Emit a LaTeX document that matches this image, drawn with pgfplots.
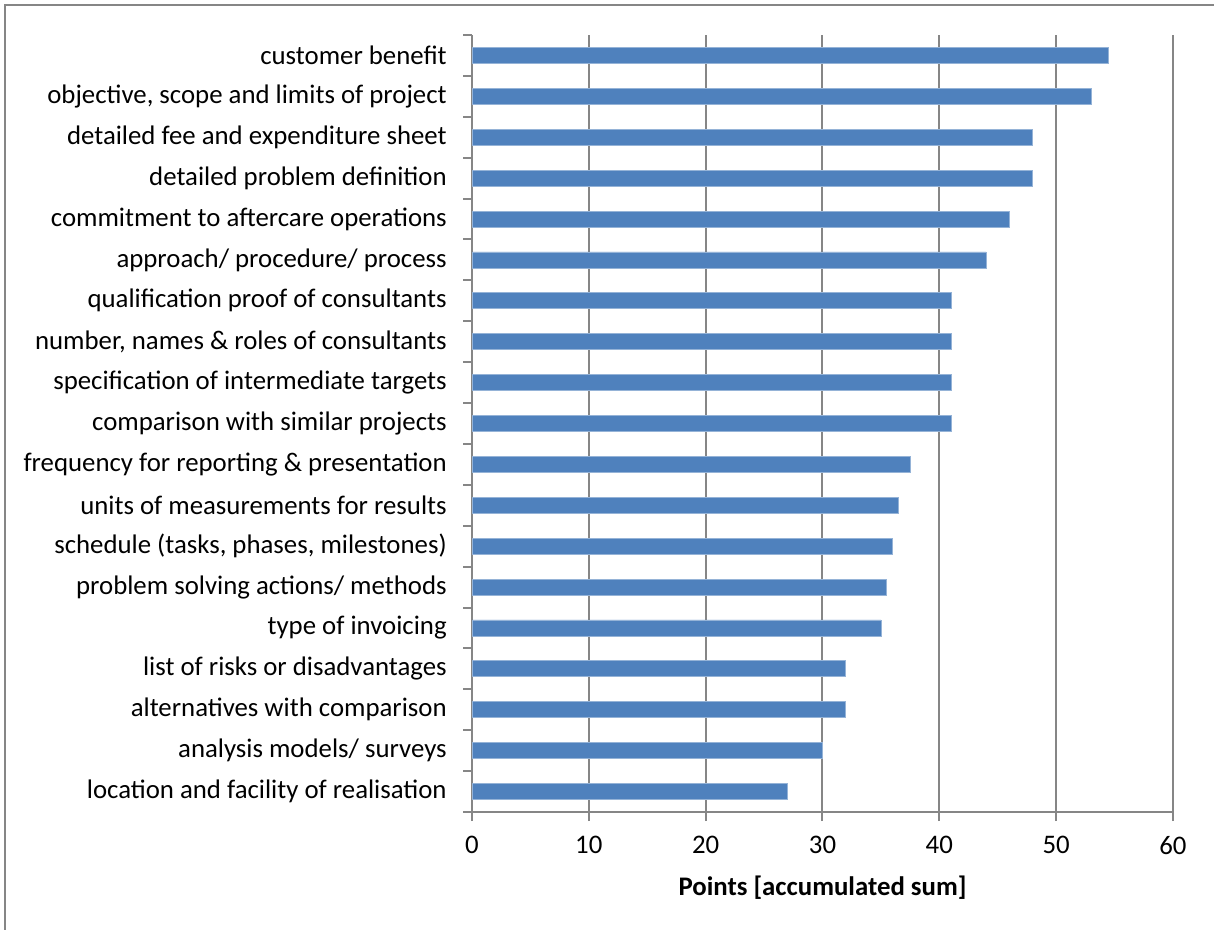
\documentclass[border=0pt]{standalone}
\usepackage{pgfplots}
\pgfplotsset{compat=1.18}
\usepackage{fontspec}
\setmainfont{Carlito}
\definecolor{barblue}{HTML}{4F81BD}
\definecolor{gridgray}{HTML}{868686}
\begin{document}
\fontsize{13.4}{15}\selectfont
\begin{tikzpicture}
\useasboundingbox (0pt,0pt) rectangle (607pt,-465pt);
\draw[gridgray, line width=1pt] (2.5pt,-465pt) -- (2.5pt,-2.5pt) -- (607pt,-2.5pt);
\begin{axis}[
  at={(236pt,-406pt)}, anchor=south west,
  scale only axis, width=350.5pt, height=388.5pt,
  xmin=0, xmax=60, ymin=-0.5, ymax=18.5,
  xtick={0,10,...,60},
  ytick={-0.5,0.5,...,18.5}, yticklabels={},
  extra y ticks={0,1,...,18},
  extra y tick labels={location and facility of realisation,analysis models/ surveys,alternatives with comparison,list of risks or disadvantages,type of invoicing,problem solving actions/ methods,{schedule (tasks, phases, milestones)},units of measurements for results,frequency for reporting \& presentation,comparison with similar projects,specification of intermediate targets,{number, names \& roles of consultants},qualification proof of consultants,approach/ procedure/ process,commitment to aftercare operations,detailed problem definition,detailed fee and expenditure sheet,{objective, scope and limits of project},customer benefit},
  extra y tick style={major tick length=0pt, yticklabel style={xshift=-8pt}},
  axis x line*=bottom, axis y line*=left,
  tick align=outside, major tick length=4.5pt,
  tick style={gridgray, line width=1pt},
  xmajorgrids, grid style={gridgray, line width=1pt},
  axis line style={gridgray, line width=1pt},
  tick label style={font=\fontsize{13.4}{15}\selectfont, black},
  /pgf/number format/assume math mode=true,
  xticklabel style={yshift=-3pt},
  xlabel={\textbf{Points [accumulated sum]}},
  xlabel style={font=\fontsize{13.4}{15}\selectfont\bfseries, yshift=-1.5pt},
]
\addplot[xbar, fill=barblue, draw=barblue!60!white, line width=0.4pt, bar width=8pt] coordinates {
(27,0) (30,1) (32,2) (32,3) (35,4) (35.5,5) (36,6) (36.5,7) (37.5,8) (41,9)
(41,10) (41,11) (41,12) (44,13) (46,14) (48,15) (48,16) (53,17) (54.5,18)
};
\end{axis}
\end{tikzpicture}
\end{document}
